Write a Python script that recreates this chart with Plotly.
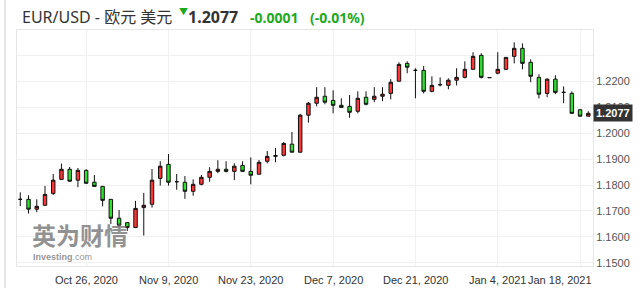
import pandas as pd
import plotly.graph_objects as go

# ---------------- data ----------------
dates = [d.strftime("%Y-%m-%d") for d in pd.bdate_range("2020-10-14", "2021-01-19")]

opens = [1.1745, 1.1745, 1.1707, 1.1722, 1.1768, 1.1822, 1.1861, 1.1819, 1.1857, 1.1811,
         1.1795, 1.1745, 1.1672, 1.1655, 1.1636, 1.1713, 1.1726, 1.1826, 1.1880, 1.1813,
         1.1811, 1.1776, 1.1803, 1.1830, 1.1853, 1.1861, 1.1853, 1.1876, 1.1853, 1.1842,
         1.1892, 1.1911, 1.1915, 1.1958, 1.1927, 1.2070, 1.2116, 1.2143, 1.2127, 1.2108,
         1.2104, 1.2085, 1.2139, 1.2131, 1.2143, 1.2154, 1.2201, 1.2270, 1.2243, 1.2243,
         1.2162, 1.2187, 1.2185, 1.2205, 1.2216, 1.2247, 1.2301, 1.2215, 1.2232, 1.2247,
         1.2297, 1.2328, 1.2274, 1.2216, 1.2154, 1.2209, 1.2158, 1.2154, 1.2091, 1.2066]
highs = [1.1772, 1.1761, 1.1745, 1.1797, 1.1843, 1.1883, 1.1870, 1.1866, 1.1861, 1.1839,
         1.1796, 1.1746, 1.1704, 1.1656, 1.1739, 1.1770, 1.1862, 1.1892, 1.1920, 1.1843,
         1.1835, 1.1822, 1.1839, 1.1869, 1.1896, 1.1892, 1.1884, 1.1892, 1.1907, 1.1897,
         1.1932, 1.1943, 1.1966, 1.2005, 1.2075, 1.2121, 1.2178, 1.2178, 1.2166, 1.2135,
         1.2148, 1.2162, 1.2162, 1.2178, 1.2178, 1.2209, 1.2274, 1.2278, 1.2251, 1.2260,
         1.2220, 1.2216, 1.2212, 1.2251, 1.2278, 1.2313, 1.2309, 1.2215, 1.2313, 1.2294,
         1.2351, 1.2347, 1.2286, 1.2228, 1.2212, 1.2224, 1.2181, 1.2162, 1.2092, 1.2085]
lows = [1.1719, 1.1690, 1.1695, 1.1720, 1.1762, 1.1820, 1.1813, 1.1792, 1.1805, 1.1794,
        1.1718, 1.1650, 1.1638, 1.1623, 1.1635, 1.1605, 1.1713, 1.1798, 1.1798, 1.1782,
        1.1747, 1.1759, 1.1799, 1.1813, 1.1846, 1.1849, 1.1819, 1.1852, 1.1803, 1.1841,
        1.1884, 1.1888, 1.1911, 1.1926, 1.1925, 1.2041, 1.2104, 1.2112, 1.2077, 1.2099,
        1.2060, 1.2077, 1.2108, 1.2120, 1.2124, 1.2131, 1.2200, 1.2232, 1.2135, 1.2154,
        1.2158, 1.2181, 1.2170, 1.2185, 1.2212, 1.2246, 1.2212, 1.2215, 1.2228, 1.2246,
        1.2270, 1.2247, 1.2197, 1.2135, 1.2139, 1.2151, 1.2116, 1.2077, 1.2065, 1.2066]
closes = [1.1745, 1.1707, 1.1718, 1.1764, 1.1819, 1.1861, 1.1815, 1.1857, 1.1807, 1.1795,
          1.1741, 1.1672, 1.1645, 1.1636, 1.1710, 1.1722, 1.1819, 1.1873, 1.1811, 1.1813,
          1.1776, 1.1803, 1.1830, 1.1853, 1.1861, 1.1853, 1.1873, 1.1853, 1.1838, 1.1888,
          1.1911, 1.1914, 1.1961, 1.1927, 1.2070, 1.2116, 1.2139, 1.2120, 1.2108, 1.2100,
          1.2081, 1.2135, 1.2112, 1.2143, 1.2151, 1.2197, 1.2266, 1.2255, 1.2243, 1.2162,
          1.2185, 1.2188, 1.2205, 1.2216, 1.2247, 1.2297, 1.2216, 1.2215, 1.2247, 1.2293,
          1.2328, 1.2270, 1.2220, 1.2151, 1.2209, 1.2158, 1.2158, 1.2077, 1.2066, 1.2077]

last_price = 1.2077
change_text = "-0.0001"
change_pct_text = "(-0.01%)"
title_text = "EUR/USD - 欧元 美元"

x_tick_vals = ["2020-10-26", "2020-11-09", "2020-11-23", "2020-12-07",
               "2020-12-21", "2021-01-04", "2021-01-18"]
x_tick_text = ["Oct 26, 2020", "Nov 9, 2020", "Nov 23, 2020", "Dec 7, 2020",
               "Dec 21, 2020", "Jan 4, 2021", "Jan 18, 2021"]
y_grid_vals = [1.15, 1.16, 1.17, 1.18, 1.19, 1.20, 1.21, 1.22, 1.23, 1.24]
y_tick_text = ["1.1500", "1.1600", "1.1700", "1.1800", "1.1900", "1.2000",
               "1.2100", "1.2200", "", ""]

# ---------------- figure ----------------
RED = "#ff3535"
GREEN = "#2fe02f"
TXT_GREEN = "#1ea81e"

fig = go.Figure()
fig.add_trace(go.Candlestick(
    x=dates, open=opens, high=highs, low=lows, close=closes,
    increasing=dict(fillcolor=RED, line=dict(color="#111111", width=1)),
    decreasing=dict(fillcolor=GREEN, line=dict(color="#111111", width=1)),
    whiskerwidth=0, hoverinfo="skip", showlegend=False,
))

fig.add_hline(y=last_price, line=dict(color="#333333", width=1.2))

annotations = []
# x tick labels
for i, (v, t) in enumerate(zip(x_tick_vals, x_tick_text)):
    if i == len(x_tick_vals) - 1:
        annotations.append(dict(x=1.002, xref="paper", y=-0.06, yref="paper", text=t,
                                showarrow=False, xanchor="right", yanchor="middle",
                                font=dict(family="Liberation Sans, Arial", size=11, color="#333")))
    else:
        annotations.append(dict(x=v, xref="x", y=-0.06, yref="paper", text=t,
                                showarrow=False, xanchor="center", yanchor="middle",
                                font=dict(family="Liberation Sans, Arial", size=11, color="#333")))

# price box
annotations.append(dict(x=1.0, xref="paper", y=last_price, yref="y",
                        text="<b>%.4f</b>" % last_price, showarrow=False,
                        xanchor="left", yanchor="middle", bgcolor="#333333",
                        borderpad=2, font=dict(family="Liberation Sans, Arial", size=11, color="white")))

# title row
tfont = "Noto Sans, Noto Sans CJK SC"
annotations += [
    dict(x=0.006, xref="paper", y=1.055, yref="paper", text=title_text, showarrow=False,
         xanchor="left", yanchor="middle", font=dict(family=tfont, size=16, color="#333")),
    dict(x=0.277, xref="paper", y=1.08, yref="paper", text="▼", showarrow=False,
         xanchor="left", yanchor="middle", font=dict(family=tfont, size=9, color=TXT_GREEN)),
    dict(x=0.293, xref="paper", y=1.055, yref="paper", text="<b>%.4f</b>" % last_price, showarrow=False,
         xanchor="left", yanchor="middle", font=dict(family=tfont, size=16, color="#333")),
    dict(x=0.401, xref="paper", y=1.055, yref="paper", text="<b>%s</b>" % change_text, showarrow=False,
         xanchor="left", yanchor="middle", font=dict(family=tfont, size=14, color=TXT_GREEN)),
    dict(x=0.505, xref="paper", y=1.055, yref="paper", text="<b>%s</b>" % change_pct_text, showarrow=False,
         xanchor="left", yanchor="middle", font=dict(family=tfont, size=14, color=TXT_GREEN)),
]

# watermark
annotations += [
    dict(x=0.022, xref="paper", y=0.135, yref="paper", text="<b>英为财情</b>", showarrow=False,
         xanchor="left", yanchor="middle",
         font=dict(family="Noto Sans CJK SC", size=24, color="rgba(110,110,110,0.75)")),
    dict(x=0.024, xref="paper", y=0.04, yref="paper", text="<b>Investing</b>.com", showarrow=False,
         xanchor="left", yanchor="middle",
         font=dict(family="Liberation Sans, Arial", size=9, color="rgba(110,110,110,0.75)")),
]

fig.update_layout(
    width=644, height=288,
    margin=dict(l=17, r=51, t=30, b=22),
    paper_bgcolor="white", plot_bgcolor="white",
    boxgap=0.4,
    annotations=annotations,
    shapes=[dict(type="line", xref="paper", yref="paper", x0=-0.0208, x1=-0.0208,
                 y0=-0.1, y1=1.13, line=dict(color="#cccccc", width=1))],
    hovermode=False,
)
fig.update_xaxes(
    type="category", range=[-0.4, 69.57], rangeslider_visible=False,
    tickvals=x_tick_vals, showticklabels=False,
    showgrid=True, gridcolor="#f0f0f0", gridwidth=1,
    showline=True, mirror=True, linecolor="#e6e6e6", zeroline=False,
)
fig.update_yaxes(
    side="right", range=[1.14876, 1.23988],
    tickvals=y_grid_vals, ticktext=y_tick_text, ticks="",
    showgrid=True, gridcolor="#f0f0f0", gridwidth=1,
    showline=True, mirror=True, linecolor="#e6e6e6", zeroline=False,
    tickfont=dict(family="Liberation Sans, Arial", size=11, color="#555"),
)

fig.write_html("out.html")
